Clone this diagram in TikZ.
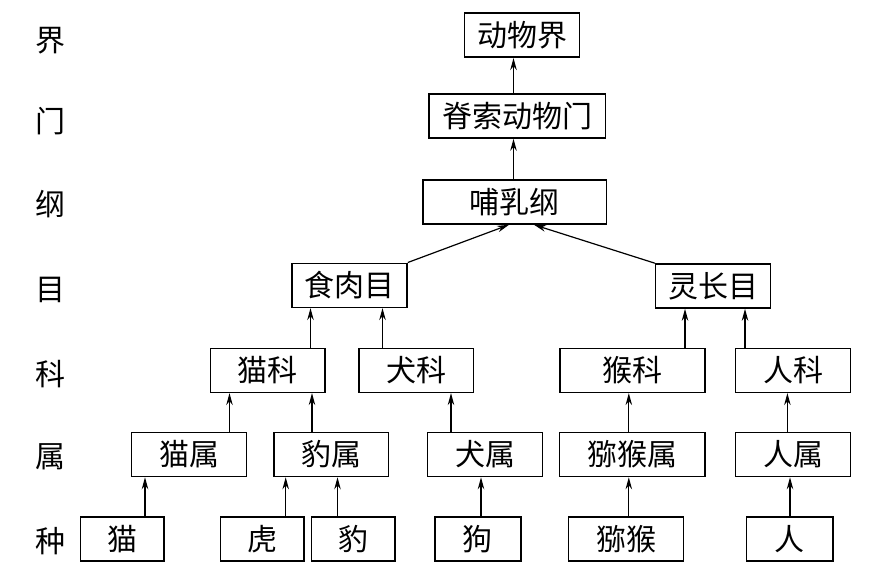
\documentclass[tikz,border=0pt]{standalone}
\usepackage{fontspec}
\setmainfont{Noto Sans CJK SC}
\usetikzlibrary{arrows.meta}
\begin{document}
\begin{tikzpicture}[x=1pt,y=-1pt,
  box/.style={draw,line width=1.6pt,rectangle,inner sep=0pt,minimum height=44pt,font=\fontsize{30}{30}\selectfont},
  lbl/.style={font=\fontsize{30}{30}\selectfont,inner sep=0pt},
  arr/.style={line width=1.2pt,-{Stealth[length=12pt,width=6.5pt]}}]
\useasboundingbox (0,0) rectangle (882,569);
% rank labels
\node[lbl] (ljie) at (50,41) {界};
\node[lbl] (lmen) at (50,121) {门};
\node[lbl] (lgang) at (50,204) {纲};
\node[lbl] (lmu) at (50,290) {目};
\node[lbl] (lke) at (50,374) {科};
\node[lbl] (lshu) at (50,457) {属};
\node[lbl] (lzhong) at (50,541) {种};
% boxes
\node[box,minimum width=114.7pt] (jie) at (522,35.3) {动物界};
\node[box,minimum width=176.6pt] (men) at (517,116) {脊索动物门};
\node[box,minimum width=183.3pt] (gang) at (514.7,202) {哺乳纲};
\node[box,minimum width=115pt] (shirou) at (349.5,285.3) {食肉目};
\node[box,minimum width=114.7pt] (lingzhang) at (713,286) {灵长目};
\node[box,minimum width=114.7pt] (maoke) at (267.7,370.3) {猫科};
\node[box,minimum width=114.8pt] (quanke) at (416.2,370.3) {犬科};
\node[box,minimum width=144.7pt] (houke) at (632.4,370.3) {猴科};
\node[box,minimum width=114.7pt] (renke) at (793,370.3) {人科};
\node[box,minimum width=114.7pt] (maoshu) at (189,454.5) {猫属};
\node[box,minimum width=114.6pt] (baoshu) at (331.3,454.5) {豹属};
\node[box,minimum width=115.2pt] (quanshu) at (485,454.5) {犬属};
\node[box,minimum width=145.1pt] (mihoushu) at (632.2,454.5) {猕猴属};
\node[box,minimum width=114.7pt] (renshu) at (793,454.5) {人属};
\node[box,minimum width=83.8pt] (mao) at (122.3,538.7) {猫};
\node[box,minimum width=83.2pt] (hu) at (262.1,538.7) {虎};
\node[box,minimum width=83.2pt] (bao) at (353.2,538.7) {豹};
\node[box,minimum width=86pt] (gou) at (477.8,538.7) {狗};
\node[box,minimum width=114.8pt] (mihou) at (626,538.7) {猕猴};
\node[box,minimum width=86.6pt] (ren) at (789.7,538.7) {人};
% arrows
\draw[arr] (513.5,0 |- men.north) -- (513.5,0 |- jie.south);
\draw[arr] (513.5,0 |- gang.north) -- (513.5,0 |- men.south);
\draw[arr] (shirou.north east) -- (509,0 |- gang.south);
\draw[arr] (lingzhang.north west) -- (534,0 |- gang.south);
\draw[arr] (310.5,0 |- maoke.north) -- (310.5,0 |- shirou.south);
\draw[arr] (382.5,0 |- quanke.north) -- (382.5,0 |- shirou.south);
\draw[arr] (685,0 |- houke.north) -- (685,0 |- lingzhang.south);
\draw[arr] (745,0 |- renke.north) -- (745,0 |- lingzhang.south);
\draw[arr] (229.5,0 |- maoshu.north) -- (229.5,0 |- maoke.south);
\draw[arr] (312,0 |- baoshu.north) -- (312,0 |- maoke.south);
\draw[arr] (451,0 |- quanshu.north) -- (451,0 |- quanke.south);
\draw[arr] (628.8,0 |- mihoushu.north) -- (628.8,0 |- houke.south);
\draw[arr] (787.4,0 |- renshu.north) -- (787.4,0 |- renke.south);
\draw[arr] (145,0 |- mao.north) -- (145,0 |- maoshu.south);
\draw[arr] (285.7,0 |- hu.north) -- (285.7,0 |- baoshu.south);
\draw[arr] (337.5,0 |- bao.north) -- (337.5,0 |- baoshu.south);
\draw[arr] (481,0 |- gou.north) -- (481,0 |- quanshu.south);
\draw[arr] (628.8,0 |- mihou.north) -- (628.8,0 |- mihoushu.south);
\draw[arr] (790,0 |- ren.north) -- (790,0 |- renshu.south);
\end{tikzpicture}
\end{document}
